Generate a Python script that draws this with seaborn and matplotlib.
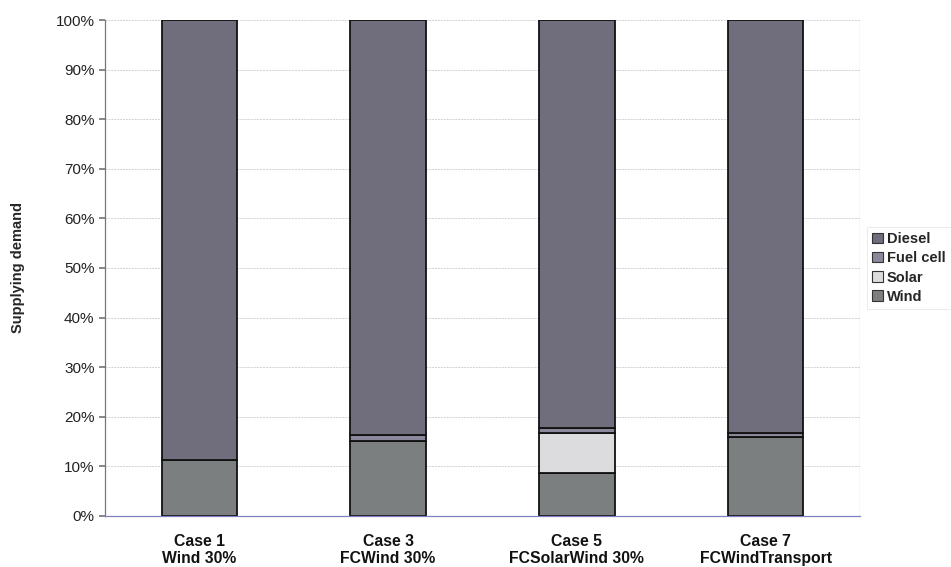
import matplotlib
matplotlib.use("Agg")
import matplotlib.pyplot as plt
from matplotlib.ticker import PercentFormatter, MultipleLocator
import seaborn as sns
import numpy as np

# Share of demand supplied by each source (%)
cases = ["Case 1\nWind 30%", "Case 3\nFCWind 30%", "Case 5\nFCSolarWind 30%", "Case 7\nFCWindTransport"]
wind = [11.3, 15.2, 8.6, 15.9]
solar = [0.0, 0.0, 8.1, 0.0]
fuel_cell = [0.0, 1.1, 1.0, 0.8]
diesel = [88.7, 83.7, 82.3, 83.3]

series = [("Wind", wind, "#7b8080"),
          ("Solar", solar, "#dcdcdf"),
          ("Fuel cell", fuel_cell, "#8a84a0"),
          ("Diesel", diesel, "#6e6b7e")]

sns.set_theme(style="white")
plt.rcParams["font.family"] = ["Liberation Sans", "DejaVu Sans"]

fig = plt.figure(figsize=(9.51, 5.67), dpi=100)
ax = fig.add_axes([0.1104, 0.09, 0.7939, 0.8747])

bottom = np.zeros(len(cases))
for name, vals, color in series:
    sns.barplot(x=cases, y=vals, bottom=bottom, color=color, width=0.40,
                edgecolor="#111111", linewidth=1.3, label=name, ax=ax)
    bottom = bottom + np.array(vals)

ax.set_ylim(0, 100)
ax.set_xlim(-0.5, len(cases) - 0.5)
ax.yaxis.set_major_locator(MultipleLocator(10))
ax.yaxis.set_major_formatter(PercentFormatter(decimals=0))
ax.yaxis.grid(True, color="#d4d0d8", linestyle=(0, (2, 1)), linewidth=0.7)
ax.set_axisbelow(True)

for side in ["top", "right"]:
    ax.spines[side].set_visible(False)
ax.spines["left"].set_color("#777777")
ax.spines["bottom"].set_color("#8080c0")
ax.spines["left"].set_linewidth(0.9)
ax.spines["bottom"].set_linewidth(0.9)
ax.axvline(len(cases) - 0.5, color="#c8c8d0", linewidth=0.9)

ax.tick_params(axis="y", labelsize=11, colors="#222222", left=True, length=4, color="#777777")
ax.tick_params(axis="x", labelsize=11.3, colors="#111111", bottom=False, pad=7)
for lbl in ax.get_xticklabels():
    lbl.set_fontweight("bold")

ax.set_ylabel("Supplying demand", fontsize=10.5, fontweight="bold", labelpad=22)
ax.set_xlabel("")

handles, labels = ax.get_legend_handles_labels()
leg = ax.legend(handles[::-1], labels[::-1], loc="center left",
                bbox_to_anchor=(1.0, 0.5), frameon=True,
                prop={"weight": "bold", "size": 10.5},
                handlelength=0.7, handleheight=0.7, handletextpad=0.3,
                labelspacing=0.35, borderpad=0.35, borderaxespad=0.5,
                fancybox=False)
leg.get_frame().set_edgecolor("#e8e8e8")
leg.get_frame().set_linewidth(0.8)
for h in leg.legend_handles:
    h.set_edgecolor("#333333")
    h.set_linewidth(0.8)

fig.savefig("out.png", dpi=100)
